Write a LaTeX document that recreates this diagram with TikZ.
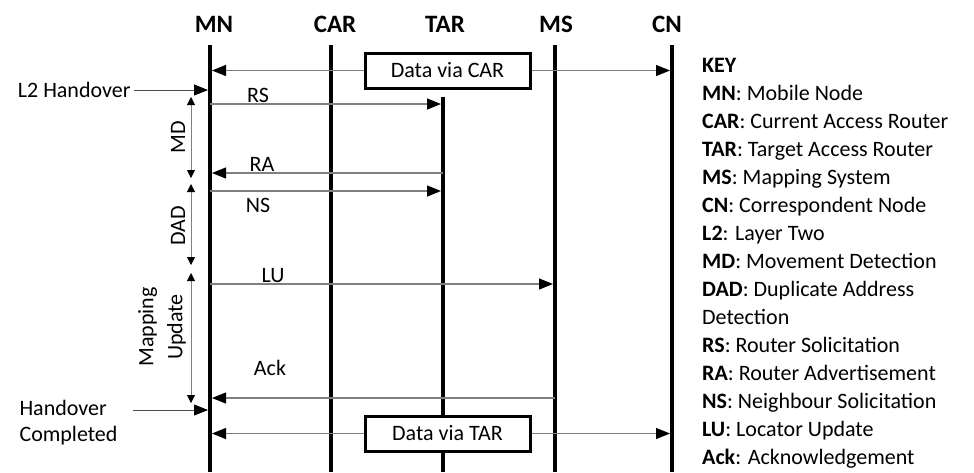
\documentclass[tikz,border=0pt]{standalone}
\usepackage{fontspec}
\setmainfont{Carlito}
\usetikzlibrary{arrows.meta}

\begin{document}
\begin{tikzpicture}[x=1pt, y=-1pt,
  every node/.style={font=\fontsize{22}{26}\selectfont},
  entity/.style={font=\fontsize{25}{30}\selectfont\bfseries},
  lifeline/.style={line width=3.5pt},
  msg/.style={draw=black!50, line width=1.2pt, shorten >=2pt,
    -{Triangle[length=14pt, width=11pt, color=black]}},
  span/.style={draw=black!50, line width=0.8pt,
    {Triangle[length=8pt, width=8pt, color=black]}-{Triangle[length=8pt, width=8pt, color=black]}},
  databox/.style={draw, line width=3pt, fill=white, minimum width=165pt,
    minimum height=35pt, inner sep=0pt}]
  \useasboundingbox (0,0) rectangle (974,472);

  % entities and their lifelines
  \node[entity] (mn) at (214,24) {MN};
  \node[entity] (car) at (335,24) {CAR};
  \node[entity] (tar) at (445,24) {TAR};
  \node[entity] (ms) at (556,24) {MS};
  \node[entity] (cn) at (667,24) {CN};
  \foreach \n/\x/\t in {mn/210/45, car/331/45, tar/443/97, ms/555/45, cn/672/45} {
    \coordinate (\n-top) at (\x,\t);
    \coordinate (\n-bot) at (\x,472);
    \draw[lifeline] (\n-top) -- (\n-bot);
  }

  % data before handover
  \node[databox] (dcar) at (447.5,70.5) {Data via CAR};
  \draw[msg] (dcar.west) -- (mn-top |- dcar.west);
  \draw[msg] (dcar.east) -- (cn-top |- dcar.east);

  \node[anchor=east] (l2) at (134,90) {L2 Handover};
  \draw[msg, line width=0.8pt, draw=black!70] (l2.east) -- (mn-top |- l2.east);

  % movement detection and DAD
  \draw[msg] (mn-top |- 0,104) -- (tar-top |- 0,104);
  \node (rs) at (258,95) {RS};
  \draw[msg] (tar-top |- 0,173) -- (mn-top |- 0,173);
  \node (ra) at (262,164) {RA};
  \draw[msg] (mn-top |- 0,191) -- (tar-top |- 0,191);
  \node (ns) at (258,205) {NS};

  % mapping update
  \draw[msg] (mn-top |- 0,284) -- (ms-top |- 0,284);
  \node (lu) at (273,276) {LU};
  \draw[msg] (ms-top |- 0,398) -- (mn-top |- 0,398);
  \node (ack) at (270,368) {Ack};

  \node[anchor=west, align=left] (hc) at (16,423) {Handover\\Completed};
  \coordinate (hc-in) at (133,410);
  \draw[msg, line width=0.8pt, draw=black!70] (hc-in) -- (mn-top |- hc-in);

  % data after handover
  \node[databox] (dtar) at (447.5,433.5) {Data via TAR};
  \draw[msg] (dtar.west) -- (mn-top |- dtar.west);
  \draw[msg] (dtar.east) -- (cn-top |- dtar.east);

  % phases
  \coordinate (md-a) at (191,97);   \coordinate (md-b) at (191,178);
  \coordinate (dad-a) at (191,184); \coordinate (dad-b) at (191,265);
  \coordinate (mu-a) at (191,273);  \coordinate (mu-b) at (191,403);
  \draw[span] (md-a) -- (md-b);
  \draw[span] (dad-a) -- (dad-b);
  \draw[span] (mu-a) -- (mu-b);
  \node[rotate=90] (md) at (178,137) {MD};
  \node[rotate=90] (dad) at (178,226) {DAD};
  \node[rotate=90, align=center, font=\fontsize{22}{29}\selectfont] (mu) at (162,327) {Mapping\\Update};

  % key
  \node[anchor=north west, align=left, inner sep=0pt,
    font=\fontsize{22}{28}\selectfont] (key) at (702,58)
    {\textbf{KEY}\\
     \textbf{MN}: Mobile Node\\
     \textbf{CAR}: Current Access Router\\
     \textbf{TAR}: Target Access Router\\
     \textbf{MS}: Mapping System\\
     \textbf{CN}: Correspondent Node\\
     \textbf{L2}: Layer Two\\
     \textbf{MD}: Movement Detection\\
     \textbf{DAD}: Duplicate Address\\
     Detection\\
     \textbf{RS}: Router Solicitation\\
     \textbf{RA}: Router Advertisement\\
     \textbf{NS}: Neighbour Solicitation\\
     \textbf{LU}: Locator Update\\
     \textbf{Ack}: Acknowledgement};
\end{tikzpicture}
\end{document}
